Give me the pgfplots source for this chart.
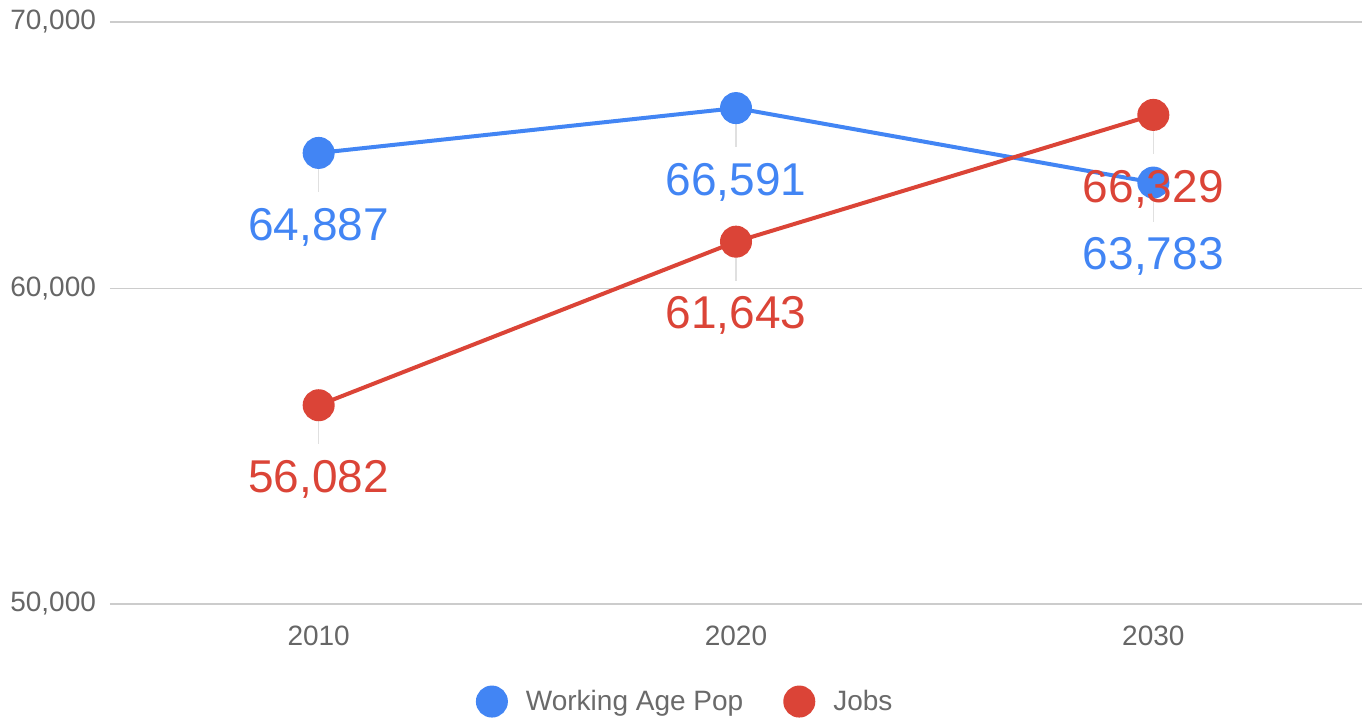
\documentclass[border=0pt]{standalone}
\usepackage{fontspec}
\setmainfont{Liberation Sans}
\usepackage{pgfplots}
\usepackage{pgfplotstable}
\pgfplotsset{compat=1.18}
\usetikzlibrary{calc}
\definecolor{gblue}{HTML}{4285F4}
\definecolor{gred}{HTML}{DB4437}
\definecolor{tickgray}{HTML}{666666}
\definecolor{leggray}{HTML}{6A6A6A}
\definecolor{gridgray}{HTML}{CCCCCC}
\definecolor{leadgray}{HTML}{E0E0E0}
\pgfdeclareplotmark{leader}{\pgfpathmoveto{\pgfqpoint{0pt}{-7.5pt}}\pgfpathlineto{\pgfqpoint{0pt}{-19.5pt}}\pgfusepathqstroke}

\pgfplotstableread{
x y label
2010 64887 64,887
2020 66591 66,591
2030 63783 63,783
}\workpop
\pgfplotstableread{
x y label
2010 56082 56,082
2020 61643 61,643
2030 66329 66,329
}\jobs

\begin{document}
\begin{tikzpicture}
\begin{axis}[
  scale only axis,
  width=626pt, height=291pt,
  ymode=log,
  xmin=2005, xmax=2035,
  ymin=50000, ymax=70000,
  xtick={2010,2020,2030},
  xticklabels={2010,2020,2030},
  ytick={50000,60000,70000},
  yticklabels={{50,000},{60,000},{70,000}},
  minor ytick={},
  axis line style={draw=none},
  major tick length=0pt,
  ymajorgrids,
  grid style={gridgray, line width=0.8pt},
  yticklabel style={font=\fontsize{14}{14}\selectfont, text=tickgray, xshift=-3.5pt},
  xticklabel style={font=\fontsize{14}{14}\selectfont, text=tickgray, anchor=center, yshift=-16pt},
  clip=false,
  legend columns=2,
  legend style={draw=none, at={(axis description cs:0.461,-0.168)}, anchor=center,
    font=\fontsize{14}{14}\selectfont, text=leggray,
    /tikz/every even column/.append style={column sep=19pt}},
  legend image code/.code={\draw[#1, mark size=7pt] plot coordinates {(0pt,0pt)};
    \path[draw=none, fill=none] (0pt,0pt) -- (15pt,0pt);},
  point meta=explicit symbolic,
]
\addplot[forget plot, only marks, mark=leader, leadgray, line width=0.8pt] table[x=x,y=y] {\workpop};
\addplot[forget plot, only marks, mark=leader, leadgray, line width=0.8pt] table[x=x,y=y] {\jobs};
\addplot[gblue, line width=2pt, mark=*, mark size=7pt, mark options={fill=gblue, draw=gblue},
  nodes near coords,
  every node near coord/.append style={anchor=center, yshift=-37pt, text=gblue, font=\fontsize{23}{23}\selectfont}]
  table[x=x,y=y,meta=label] {\workpop};
\addlegendentry{Working Age Pop}
\addplot[gred, line width=2pt, mark=*, mark size=7pt, mark options={fill=gred, draw=gred},
  nodes near coords,
  every node near coord/.append style={anchor=center, yshift=-37pt, text=gred, font=\fontsize{23}{23}\selectfont}]
  table[x=x,y=y,meta=label] {\jobs};
\addlegendentry{Jobs}
\coordinate (sw) at (rel axis cs:0,0);
\coordinate (ne) at (rel axis cs:1,1);
\end{axis}
\pgfresetboundingbox
\path ($(sw)+(-55pt,-58.5pt)$) rectangle ($(ne)+(3.5pt,11pt)$);
\end{tikzpicture}
\end{document}
